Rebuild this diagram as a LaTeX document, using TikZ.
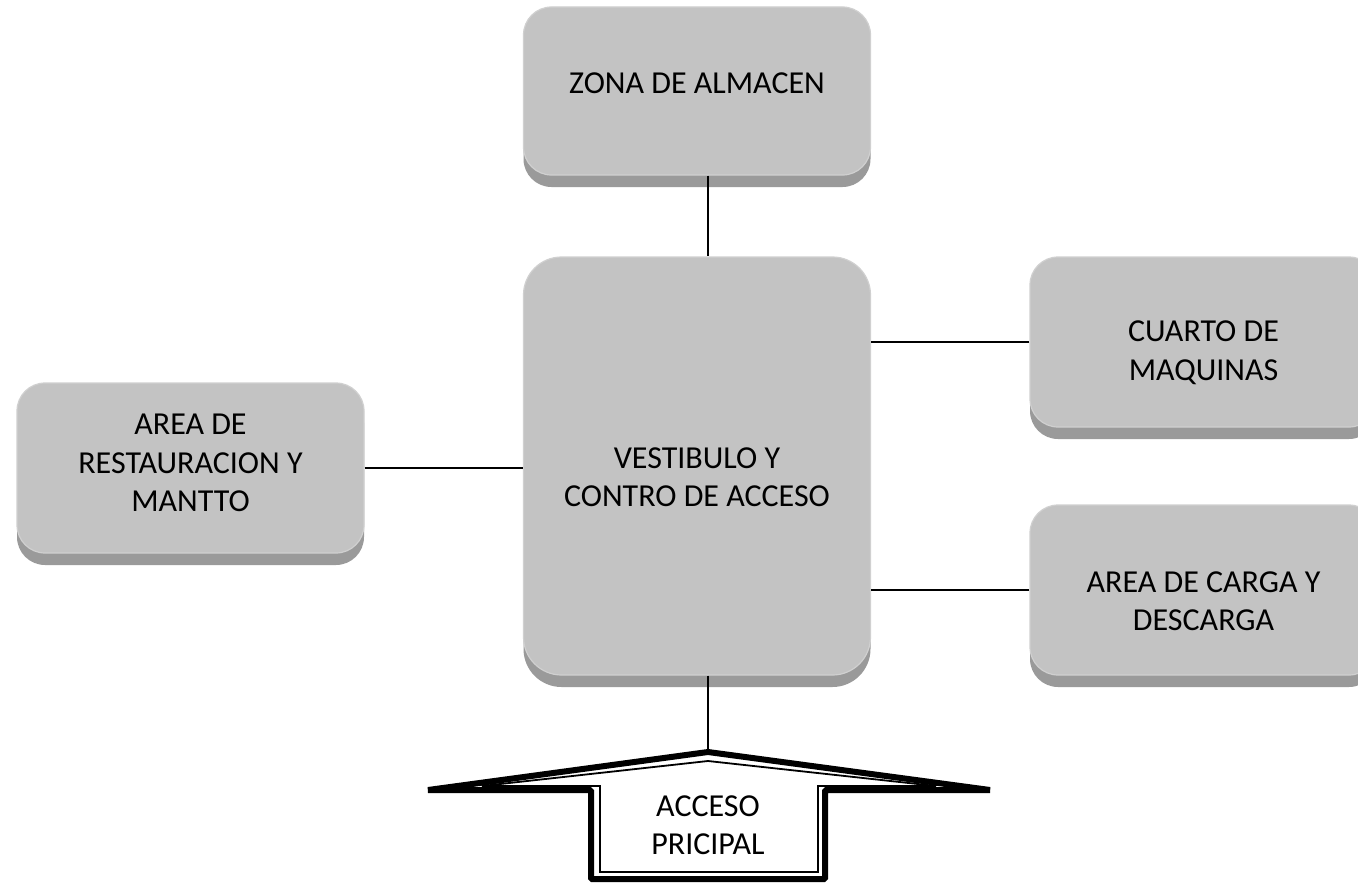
\documentclass[tikz,border=0pt]{standalone}
\usepackage{fontspec}
\setmainfont{Carlito}
\usetikzlibrary{shadows}
\definecolor{facec}{HTML}{C3C3C3}
\definecolor{bandc}{HTML}{9A9A9A}
\definecolor{edgec}{HTML}{D0D0D0}
\tikzset{
  face/.style={rounded corners=#1, fill=facec, draw=edgec, line width=1.2pt,
    inner sep=0pt, minimum width=347pt,
    general shadow={shadow xshift=0pt, shadow yshift=-12pt, fill=bandc}},
  face/.default=28pt,
  lbl/.style={font=\fontsize{32}{38.5}\selectfont, align=center, inner sep=0pt},
  conn/.style={line width=1.6pt, black},
}
\begin{document}
\begin{tikzpicture}[x=1pt,y=-1pt]
\useasboundingbox (0,0) rectangle (1358,883);
\clip (0,0) rectangle (1358,883);
\fill[white] (0,0) rectangle (1358,883);
% boxes (faces)
\node[face, minimum height=168pt] (zona) at (697,91) {};
\node[face=38pt, minimum height=418pt] (vest) at (697,466) {};
\node[face, minimum height=170pt] (cuarto) at (1203.5,342) {};
\node[face, minimum height=170pt] (carga) at (1203.5,590) {};
\node[face, minimum height=170pt] (rest) at (190.5,468) {};
% labels
\node[lbl] (zonaT) at (697,83) {ZONA DE ALMACEN};
\node[lbl] (vestT) at (697,477) {VESTIBULO Y\\CONTRO DE ACCESO};
\node[lbl] (cuartoT) at (1203.5,352.5) {CUARTO DE\\MAQUINAS};
\node[lbl] (cargaT) at (1203.5,601) {AREA DE CARGA Y\\DESCARGA};
\node[lbl] (restT) at (190.5,463) {AREA DE\\RESTAURACION Y\\MANTTO};
% entrance arrow
\coordinate (apex) at (708,752);
\coordinate (ltip) at (428,790);
\coordinate (rtip) at (990,790);
\filldraw[fill=white, draw=black, line width=6pt, line join=bevel]
  (ltip) -- (apex) -- (rtip) -- (825,790) -- (825,879) -- (591,879) -- (591,790) -- cycle;
\draw[black, line width=1.8pt, line join=miter]
  (482,786) -- (708,761) -- (936,786) -- (818,786) -- (818,872) -- (600,872) -- (600,786) -- cycle;
\node[lbl] (accT) at (708,825) {ACCESO\\PRICIPAL};
% connectors
\draw[conn] (zona.south -| apex) -- (vest.north -| apex);
\draw[conn] (vest.south -| apex) -- (apex);
\draw[conn] (cuarto.west) -- (cuarto.west -| vest.east);
\draw[conn] (carga.west) -- (carga.west -| vest.east);
\draw[conn] (rest.east) -- (rest.east -| vest.west);
\end{tikzpicture}
\end{document}
